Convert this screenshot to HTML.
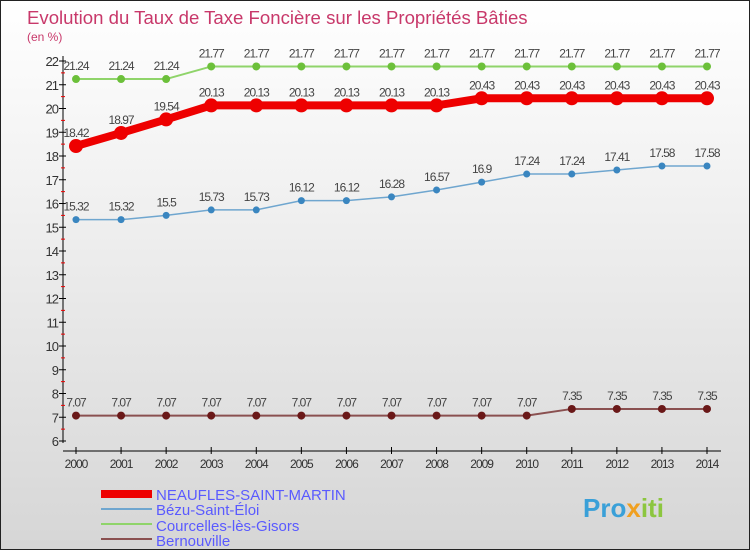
<!DOCTYPE html>
<html><head><meta charset="utf-8"><style>
body{margin:0;width:750px;height:550px;overflow:hidden;font-family:"Liberation Sans",sans-serif}
#c{position:absolute;left:0;top:0;width:748px;height:548px;border:1px solid #222;background:linear-gradient(#ffffff,#f3f3f3 30%,#d6d6d6)}
</style></head><body>
<div id="c">
<svg width="750" height="550" id="svg">
<text x="26" y="23" font-size="18.6" fill="#c8386a">Evolution du Taux de Taxe Foncière sur les Propriétés Bâties</text>
<text x="26" y="40" font-size="12" fill="#c8386a">(en %)</text>
<g id="axes"></g><g id="series"></g>
<g>
<rect x="100" y="489" width="51" height="8" fill="#ee0000"/>
<text x="155" y="499" font-size="15" fill="#5a5aff">NEAUFLES-SAINT-MARTIN</text>
<rect x="100" y="507" width="51" height="2" fill="#6fa6cf"/>
<text x="155" y="514" font-size="15" fill="#5a5aff">Bézu-Saint-Éloi</text>
<rect x="100" y="522" width="51" height="2" fill="#8fd46a"/>
<text x="155" y="530" font-size="15" fill="#5a5aff">Courcelles-lès-Gisors</text>
<rect x="100" y="537" width="51" height="2" fill="#8a5050"/>
<text x="155" y="545" font-size="15" fill="#5a5aff">Bernouville</text>
</g>
<text x="582" y="516" font-size="26" font-weight="bold" fill="#3aa0d8">Pro<tspan fill="#f0a020">x</tspan><tspan fill="#8cc63f">iti</tspan></text>
</svg></div>
<script>
const years=[2000,2001,2002,2003,2004,2005,2006,2007,2008,2009,2010,2011,2012,2013,2014];
const neaufles=[18.42,18.97,19.54,20.13,20.13,20.13,20.13,20.13,20.13,20.43,20.43,20.43,20.43,20.43,20.43];
const bezu=[15.32,15.32,15.5,15.73,15.73,16.12,16.12,16.28,16.57,16.9,17.24,17.24,17.41,17.58,17.58];
const courcelles=[21.24,21.24,21.24,21.77,21.77,21.77,21.77,21.77,21.77,21.77,21.77,21.77,21.77,21.77,21.77];
const bernouville=[7.07,7.07,7.07,7.07,7.07,7.07,7.07,7.07,7.07,7.07,7.07,7.35,7.35,7.35,7.35];
const yTicks=[6,7,8,9,10,11,12,13,14,15,16,17,18,19,20,21,22];
const NS='http://www.w3.org/2000/svg';
const X=y=>75+(y-2000)*(631/14);
const Y=v=>60+(22-v)*23.75;
function mk(t,a,p){const e=document.createElementNS(NS,t);for(const k in a)e.setAttribute(k,a[k]);p.appendChild(e);return e;}
const ax=document.getElementById('axes');
const yl=mk('line',{x1:62,y1:55,x2:62,y2:442,stroke:'#000'},ax);


const xl=mk('line',{x1:62,y1:450,x2:720,y2:450,stroke:'#000'},ax);


yTicks.forEach(v=>{
 mk('line',{x1:58,x2:65,y1:Y(v),y2:Y(v),stroke:'#000'},ax);
 if(v<22)mk('line',{x1:60,x2:64,y1:Y(v+0.5),y2:Y(v+0.5),stroke:'#e00'},ax);
 const t=mk('text',{x:57,y:Y(v)+5,'font-size':13,'text-anchor':'end',fill:'#333','letter-spacing':'-1'},ax);
 t.textContent=v;
 
 
});
years.forEach(yr=>{
 mk('line',{x1:X(yr),x2:X(yr),y1:446,y2:453,stroke:'#000'},ax);
 const t=mk('text',{x:X(yr),y:467,'font-size':12,'text-anchor':'middle',fill:'#333','letter-spacing':'-1'},ax);
 t.textContent=yr;
 
 
});
const sg=document.getElementById('series');
function series(name,vals,col,dot,w,r){
 const g=mk('g',{},sg);
 
 
 const pl=mk('polyline',{points:vals.map((v,i)=>X(years[i])+','+Y(v)).join(' '),fill:'none',stroke:col,'stroke-width':w},g);
 
 
 vals.forEach((v,i)=>{
  const c=mk('circle',{cx:X(years[i]),cy:Y(v),r:r,fill:dot},g);
  
  
  const t=mk('text',{x:X(years[i]),y:Y(v)-9,'font-size':12,'text-anchor':'middle',fill:'#444','letter-spacing':'-1'},g);
  t.textContent=v;
  
  
 });
}
series('courcelles',courcelles,'#8fd46a','#6cc03a',2,4);
series('bezu',bezu,'#6fa6cf','#3a86c0',1.5,3.5);
series('bernouville',bernouville,'#8a5050','#6a1818',2,4);
series('neaufles',neaufles,'#ee0000','#ee0000',8,7);
</script>
</body></html>
